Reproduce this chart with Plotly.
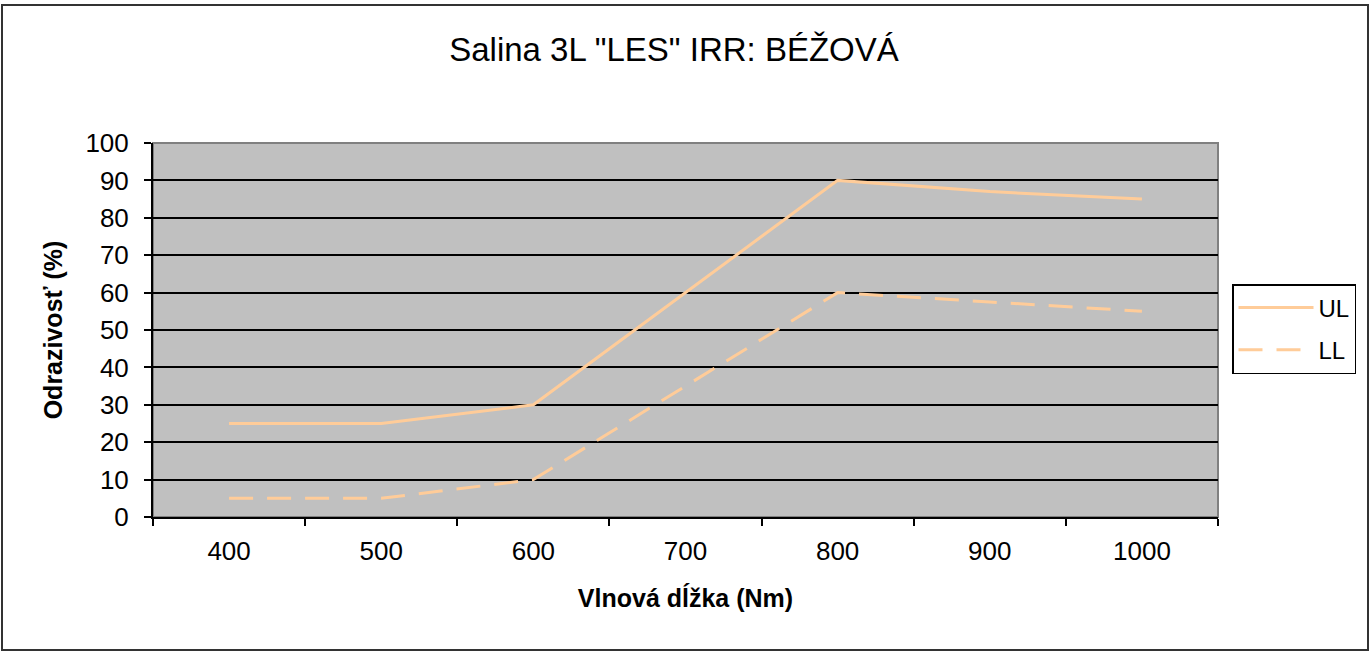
import plotly.graph_objects as go

wavelengths = ["400", "500", "600", "700", "800", "900", "1000"]
ul_values = [25, 25, 30, 60, 90, 87, 85]
ll_values = [5, 5, 10, 35, 60, 57.5, 55]

line_col = "#FFCC99"
font_family = "Liberation Sans, Arial, sans-serif"

fig = go.Figure()
fig.add_trace(go.Scatter(x=wavelengths, y=ul_values, name="UL", mode="lines", legendgroup="ul",
                         line=dict(color=line_col, width=3)))
fig.add_trace(go.Scatter(x=wavelengths, y=ll_values, name="LL", mode="lines", legendgroup="ll",
                         line=dict(color=line_col, width=3, dash="24px,14px")))

# pixel -> paper helpers (plot area spans x 153..1218, y 143..517)
def px(p):
    return (p - 153) / 1065

def py(p):
    return (517 - p) / 374

# outer chart border and plot-area frame
fig.add_shape(type="rect", xref="paper", yref="paper",
              x0=px(2), x1=px(1368), y0=py(650), y1=py(5),
              line=dict(color="#333333", width=2), layer="below")
fig.add_shape(type="rect", xref="paper", yref="paper", x0=0, x1=1, y0=0, y1=1,
              line=dict(color="#808080", width=2), layer="below")

fig.update_layout(
    width=1371, height=652,
    margin=dict(l=153, r=153, t=143, b=135),
    paper_bgcolor="white", plot_bgcolor="#C0C0C0",
    font=dict(family=font_family, size=26, color="black"),
    title=dict(text='Salina 3L "LES" IRR: BÉŽOVÁ', x=674 / 1371, xanchor="center",
               y=1 - 49 / 652, yanchor="middle", font=dict(size=33)),
    legend=dict(x=px(1232), y=py(284), xanchor="left", yanchor="top",
                bgcolor="white", bordercolor="black", borderwidth=1.5,
                font=dict(size=24), tracegroupgap=8, itemwidth=75),
    showlegend=True,
)
fig.update_xaxes(type="category", range=[-0.5, len(wavelengths) - 0.5],
                 tickson="boundaries", ticks="outside", ticklen=7,
                 tickcolor="black", tickwidth=1.5, showline=True, linecolor="black", linewidth=2,
                 showgrid=False, tickfont=dict(size=26), ticklabelstandoff=10,
                 title=dict(text="<b>Vlnová dĺžka (Nm)</b>", font=dict(size=25), standoff=24))
fig.update_yaxes(range=[0, 100], dtick=10, ticks="outside", ticklen=7, tickcolor="black",
                 tickwidth=1.5, showline=True, linecolor="black", linewidth=2,
                 showgrid=True, gridcolor="black", gridwidth=2, zeroline=False,
                 tickfont=dict(size=26), ticklabelstandoff=10,
                 title=dict(text="<b>Odrazivosť (%)</b>", font=dict(size=25), standoff=16))

fig.write_html("out.html", config={"displayModeBar": False},
               post_script="document.body.style.margin='0';")
